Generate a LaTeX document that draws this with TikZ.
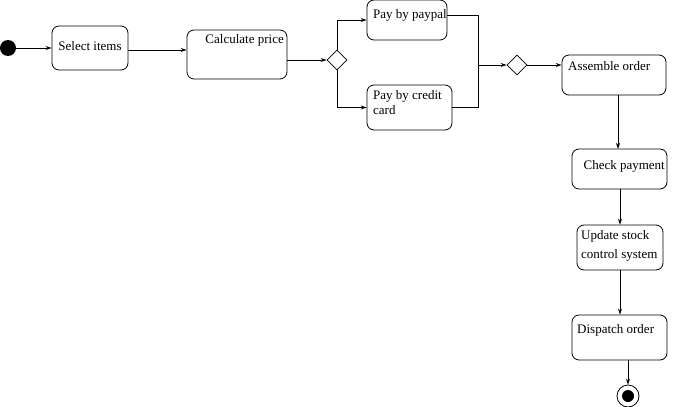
\documentclass[tikz,border=0pt]{standalone}
\usepackage{fontspec}
\setmainfont{Liberation Serif}
\usetikzlibrary{shapes.geometric,arrows.meta,calc}
\begin{document}
\begin{tikzpicture}[x=1pt,y=-1pt,
  act/.style={draw,rounded corners=7pt,inner sep=0pt,line width=0.8pt},
  txt/.style={inner sep=0pt,font=\fontsize{13}{19}\selectfont,align=left},
  dec/.style={draw,diamond,minimum size=20pt,inner sep=0pt,line width=0.7pt},
  arr/.style={line width=0.8pt,-{Stealth[length=6pt,width=4pt]}},
  ln/.style={line width=0.8pt}]
\useasboundingbox (0,0) rectangle (673,407);
\node[circle,fill=black,minimum size=16pt,inner sep=0pt] (start) at (8,48) {};
% boxes
\node[act,minimum width=76pt,minimum height=44pt] (sel) at (90,48) {};
\node[txt] (selt) at (90,46) {Select items};
\node[act,minimum width=100pt,minimum height=49pt] (calc) at (237,54.5) {};
\node[txt,anchor=north east] (calct) at (284,34) {Calculate price};
\node[dec] (d1) at (337,60) {};
\node[act,minimum width=80pt,minimum height=40pt] (pp) at (407,20) {};
\node[txt,anchor=west] (ppt) at (373,15) {Pay by paypal};
\node[act,minimum width=85pt,minimum height=45pt] (cc) at (409.5,107.5) {};
\node[txt,anchor=north west,font=\fontsize{13}{15}\selectfont] (cct) at (373,90) {Pay by credit\\card};
\coordinate (mj) at (478,65);
\node[dec] (d2) at (517,65) {};
\node[act,minimum width=104pt,minimum height=40pt] (as) at (614,75) {};
\node[txt,anchor=west] (ast) at (568,66) {Assemble order};
\node[act,minimum width=95pt,minimum height=40pt] (ck) at (619.5,169) {};
\node[txt,anchor=east] (ckt) at (665,166) {Check payment};
\node[act,minimum width=86pt,minimum height=45pt] (up) at (620,247.5) {};
\node[txt,anchor=north west] (upt) at (581,230) {Update stock\\control system};
\node[act,minimum width=95pt,minimum height=45pt] (dp) at (619.5,337.5) {};
\node[txt,anchor=west] (dpt) at (577,330) {Dispatch order};
\node[circle,draw,line width=0.8pt,minimum size=22pt,inner sep=0pt] (end) at (628,396) {};
\node[circle,fill=black,minimum size=12pt,inner sep=0pt] (endi) at (628,396) {};
% connectors
\draw[arr] (start.east) -- (sel.west);
\draw[arr] ($(sel.east)+(0,2)$) -- ($(sel.east -| calc.west)+(0,2)$);
\draw[arr] (calc.east |- d1) -- (d1.west);
\draw[arr] (d1.north) |- (pp.west);
\draw[arr] (d1.south) |- (cc.west);
\draw[ln] (pp.east |- ppt) -| (mj);
\draw[ln] (cc.east) -| (mj);
\draw[arr] (mj) -- (d2.west);
\draw[arr] (d2.east) -- (d2 -| as.west);
\draw[arr] (618,95) -- (618 ,149);
\draw[arr] (ck.south -| up) -- (up.north);
\draw[arr] (up.south) -- (up.south |- dp.north);
\draw[arr] (dp.south -| end) -- (end.north);
\end{tikzpicture}
\end{document}
